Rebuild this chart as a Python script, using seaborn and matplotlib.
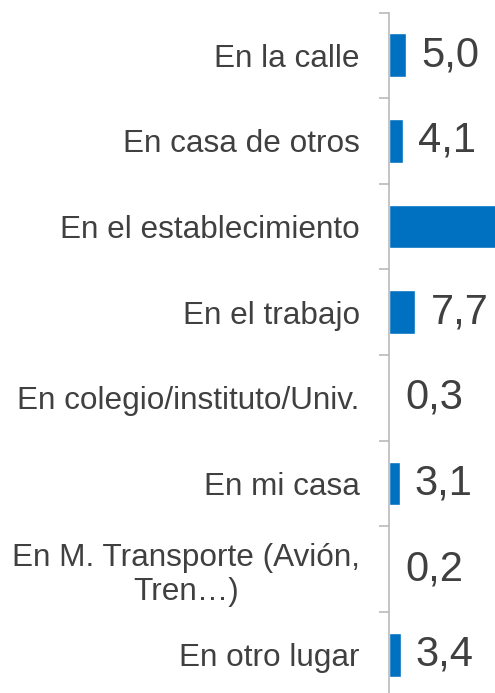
import matplotlib
matplotlib.use('Agg')
import matplotlib.pyplot as plt
import seaborn as sns
import pandas as pd
import numpy as np

# Data
lugares = ['En la calle', 'En casa de otros', 'En el establecimiento', 'En el trabajo',
           'En colegio/instituto/Univ.', 'En mi casa',
           'En M. Transporte (Avión,\nTren…)', 'En otro lugar']
valores = [5.0, 4.1, 76.2, 7.7, 0.3, 3.1, 0.2, 3.4]

df = pd.DataFrame({'lugar': lugares, 'valor': valores})

sns.set_theme(style='white')
plt.rcParams['font.family'] = ['Liberation Sans', 'DejaVu Sans']

text_color = '#404040'
bar_color = '#0070C0'
axis_color = '#B4B4B4'

fig = plt.figure(figsize=(4.95, 6.93), dpi=100)
ax = fig.add_axes([389 / 495, 1 - 697.5 / 693, 1 - 389 / 495, 685 / 693])

sns.barplot(data=df, x='valor', y='lugar', orient='h', color=bar_color,
            width=0.51, ax=ax, saturation=1)

xmax = 31.2
ax.set_xlim(0, xmax)
ax.set_ylim(len(lugares) - 0.5, -0.5)
ax.set_xlabel('')
ax.set_ylabel('')
ax.set_xticks([])

# value labels (the long bar runs off the chart, its label is not shown)
for i, v in enumerate(valores):
    if v > xmax * 0.5:
        continue
    ax.annotate(f'{v:.1f}'.replace('.', ','), xy=(v, i), xytext=(11, 0),
                textcoords='offset points', va='center', ha='left',
                fontsize=30, color=text_color, annotation_clip=False)

# category labels and boundary ticks
ax.set_yticks(range(len(lugares)))
ax.set_yticklabels(lugares, fontsize=22.7, color=text_color, multialignment='center')
ax.tick_params(axis='y', which='major', length=0, pad=21)
ax.set_yticks(np.arange(-0.5, len(lugares), 1), minor=True)
ax.tick_params(axis='y', which='minor', length=7.2, width=1.1, color=axis_color, left=True)

for s in ['top', 'right', 'bottom']:
    ax.spines[s].set_visible(False)
ax.spines['left'].set_color(axis_color)
ax.spines['left'].set_linewidth(1.1)

fig.savefig('out.png', dpi=100)
